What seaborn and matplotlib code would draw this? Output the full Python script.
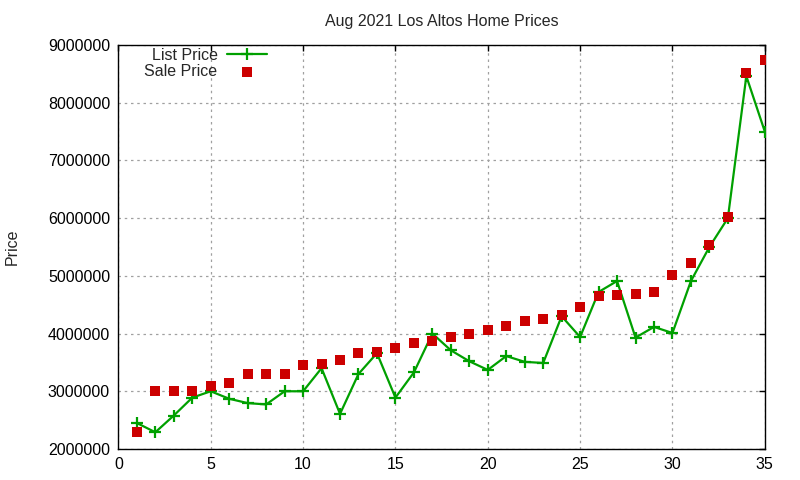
import numpy as np
import pandas as pd
import matplotlib
matplotlib.use('Agg')
import matplotlib.pyplot as plt
import seaborn as sns

# values
homes = list(range(1, 36))
list_price = [2450000, 2290000, 2580000, 2890000, 3000000, 2870000, 2795000, 2772000, 3000000, 3000000,
              3400000, 2608000, 3300000, 3660000, 2890000, 3327000, 4000000, 3710000, 3520000, 3370000,
              3610000, 3510000, 3490000, 4300000, 3940000, 4720000, 4910000, 3930000, 4115000, 4010000,
              4910000, 5500000, 6000000, 8460000, 7500000]
sale_price = [2290000, 3000000, 3000000, 3000000, 3090000, 3150000, 3300000, 3300000, 3300000, 3462000,
              3474000, 3550000, 3655000, 3673000, 3754000, 3842000, 3865000, 3940000, 4000000, 4064000,
              4133000, 4220000, 4254000, 4320000, 4462000, 4653000, 4670000, 4688000, 4720000, 5017000,
              5225000, 5538000, 6017000, 8516000, 8742000]

df = pd.DataFrame({'home': homes, 'list': list_price, 'sale': sale_price})

sns.set_style('white')
plt.rcParams['font.family'] = ['Liberation Sans', 'DejaVu Sans']

fig = plt.figure(figsize=(8, 4.8), dpi=100)
ax = fig.add_axes([0.148, 0.0646, 0.808, 0.8417])

sns.lineplot(data=df, x='home', y='list', ax=ax, color='#00a000', linewidth=1.6,
             marker='+', markersize=8, markeredgewidth=1.6, markeredgecolor='#00a000',
             label='List Price', zorder=3)
sns.scatterplot(data=df, x='home', y='sale', ax=ax, color='#cc0000', marker='s', s=50,
                linewidth=0, label='Sale Price', zorder=4)

ax.set_xlim(0, 35)
ax.set_ylim(2000000, 9000000)
ax.set_xticks(np.arange(0, 36, 5))
ax.set_yticks(np.arange(2000000, 9000001, 1000000))
ax.ticklabel_format(style='plain', axis='y', useOffset=False)
ax.tick_params(direction='in', length=4, width=1, top=True, right=True, labelsize=11.5,
               colors='black', pad=6)
ax.grid(True, color='#a0a0a0', linestyle=(0, (2, 3)), linewidth=0.9)
for s in ax.spines.values():
    s.set_color('black')
    s.set_linewidth(1.0)

ax.set_xlabel('')
ax.set_ylabel('Price', fontsize=11.5, labelpad=20)
ax.set_title('Aug 2021 Los Altos Home Prices', fontsize=11.5, pad=14)

leg = ax.legend(loc='upper left', bbox_to_anchor=(0.023, 1.02), frameon=False, markerfirst=False,
                fontsize=11.5, handlelength=2.5, handletextpad=0.6, labelspacing=0.05,
                borderaxespad=0.3)

fig.savefig('out.png', dpi=100)
